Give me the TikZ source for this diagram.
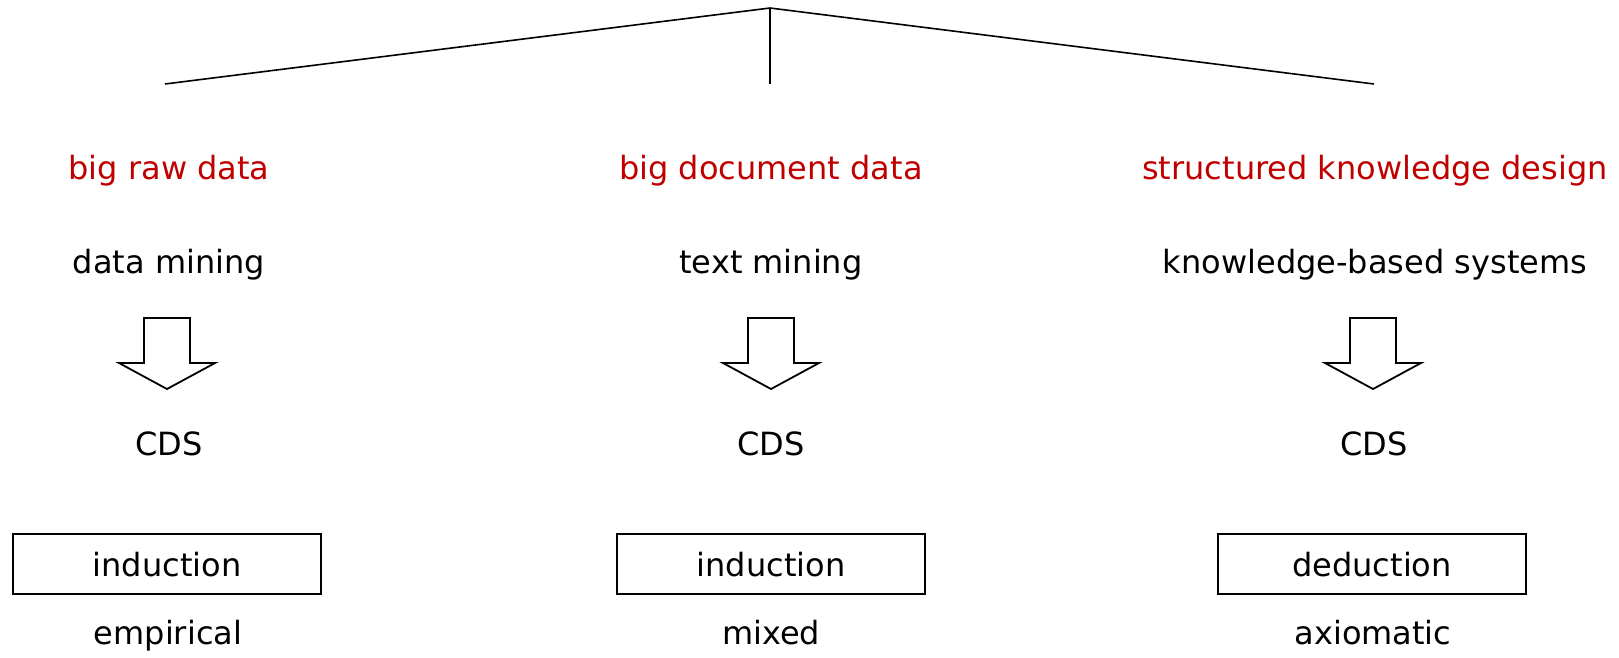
\documentclass[tikz,border=0pt]{standalone}
\usepackage{fontspec}
\setmainfont{DejaVu Sans}
\usetikzlibrary{positioning}
\definecolor{headred}{RGB}{192,0,0}

\begin{document}
\begin{tikzpicture}[x=1pt,y=-1pt,
                    label node/.style={anchor=base,inner sep=0pt,font=\fontsize{32}{38}\selectfont},
                    head node/.style={label node,text=headred},
                    box node/.style={draw,line width=2.2pt,inner sep=0pt,
                      font=\fontsize{32}{38}\selectfont,text height=24.5pt,text depth=0pt,
                      minimum width=308pt,minimum height=60pt},
                    block arrow/.style={draw,line width=1.8pt,line join=miter}]
  \useasboundingbox (0,0) rectangle (1619,657);

  % the tree on top
  \coordinate (root) at (770,8);
  \coordinate (leftend) at (165,84);
  \coordinate (midend) at (770,84);
  \coordinate (rightend) at (1374,84);
  \draw[line width=1.6pt] (leftend) -- (root) -- (rightend);
  \draw[line width=1.6pt] (root) -- (midend);

  % empirical side
  \node[head node] (raw) at (169,179) {big raw data};
  \node[label node] (dm) at (169,273) {data mining};
  \node[label node] (cds1) at (169,455) {CDS};
  \node[box node] (ind1) at (167,564) {induction};
  \node[label node] (emp) at (168,644) {empirical};

  % mixed side
  \node[head node] (doc) at (771,179) {big document data};
  \node[label node] (tm) at (771,273) {text mining};
  \node[label node] (cds2) at (771,455) {CDS};
  \node[box node] (ind2) at (771,564) {induction};
  \node[label node] (mix) at (771,644) {mixed};

  % axiomatic side
  \node[head node] (skd) at (1375,179) {structured knowledge design};
  \node[label node] (kbs) at (1375,273) {knowledge-based systems};
  \node[label node] (cds3) at (1374,455) {CDS};
  \node[box node] (ded) at (1372,564) {deduction};
  \node[label node] (axi) at (1373,644) {axiomatic};

  % hollow down arrows
  \foreach \x in {167,771,1373}
    \draw[block arrow] (\x-23,318) -- (\x+23,318) -- (\x+23,363) -- (\x+48,363)
      -- (\x,389) -- (\x-48,363) -- (\x-23,363) -- cycle;
\end{tikzpicture}
\end{document}
